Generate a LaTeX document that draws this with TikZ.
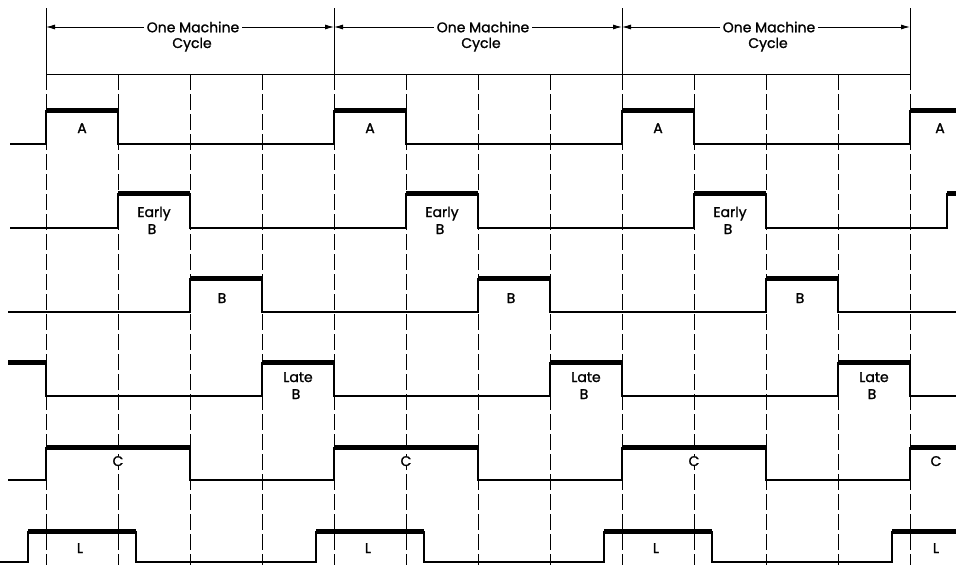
\documentclass[tikz,border=0pt]{standalone}
\usepackage{fontspec}
\setmainfont{Poppins}
\newfontfamily\lblfont{Poppins}[FakeBold=1.2]
\usetikzlibrary{arrows.meta}
\begin{document}
\begin{tikzpicture}[x=1pt,y=-1pt,
  gridsolid/.style={line width=1pt},
  griddash/.style={line width=1pt,dash pattern=on 16pt off 4pt},
  sig/.style={line width=1.8pt,line join=miter},
  hibar/.style={line width=5pt},
  lbl/.style={font=\lblfont\fontsize{14}{16}\selectfont\addfontfeature{FakeBold=1.2},anchor=base,inner sep=0pt},
  cyc/.style={font=\lblfont\fontsize{14}{16}\selectfont\addfontfeature{FakeBold=1.2},inner sep=3pt},
  arr/.style={line width=0.9pt,-{Latex[length=9pt,width=5pt]}}]
\useasboundingbox (0,0) rectangle (956,565);
\fill[white] (0,0) rectangle (956,565);
% grid
\foreach \x in {46,334,622,910} {
  \draw[gridsolid] (\x,8) -- (\x,74);
  \draw[griddash] (\x,74) -- (\x,565);
}
\foreach \x in {118,190,262,406,478,550,694,766,838}
  \draw[griddash] (\x,74) -- (\x,565);
\draw[gridsolid] (46,74) -- (910,74);
% cycle labels
\coordinate (b0) at (46,27);
\coordinate (b1) at (334,27);
\coordinate (b2) at (622,27);
\coordinate (b3) at (910,27);
\node[cyc] (om1) at (193,27) {One Machine};
\node[cyc] (om2) at (483,27) {One Machine};
\node[cyc] (om3) at (769,27) {One Machine};
\node[lbl] (cy1) at (192,48) {Cycle};
\node[lbl] (cy2) at (481,48) {Cycle};
\node[lbl] (cy3) at (768,48) {Cycle};
\draw[arr] (om1.west) -- (b0);
\draw[arr] (om1.east) -- (b1);
\draw[arr] (om2.west) -- (b1);
\draw[arr] (om2.east) -- (b2);
\draw[arr] (om3.west) -- (b2);
\draw[arr] (om3.east) -- (b3);
% A
\draw[sig] (10,144) -- (46,144) -- (46,111) -- (118,111) -- (118,144) -- (334,144) -- (334,111) -- (406,111) -- (406,144) -- (622,144) -- (622,111) -- (694,111) -- (694,144) -- (910,144) -- (910,111) -- (956,111);
\foreach \a/\b in {46/118,334/406,622/694,910/956} \draw[hibar] (\a,110) -- (\b,110);
\node[lbl] (la1) at (82,133) {A};
\node[lbl] (la2) at (370,133) {A};
\node[lbl] (la3) at (658,133) {A};
\node[lbl] (la4) at (940,133) {A};
% Early B
\draw[sig] (10,228) -- (118,228) -- (118,194) -- (190,194) -- (190,228) -- (406,228) -- (406,194) -- (478,194) -- (478,228) -- (694,228) -- (694,194) -- (766,194) -- (766,228) -- (947,228) -- (947,194) -- (956,194);
\foreach \a/\b in {118/190,406/478,694/766,947/956} \draw[hibar] (\a,193) -- (\b,193);
\node[lbl] (le1) at (154,217) {Early};
\node[lbl] (lf1) at (152,234) {B};
\node[lbl] (le2) at (442,217) {Early};
\node[lbl] (lf2) at (440,234) {B};
\node[lbl] (le3) at (730,217) {Early};
\node[lbl] (lf3) at (728,234) {B};
% B
\draw[sig] (8,312) -- (190,312) -- (190,279) -- (262,279) -- (262,312) -- (478,312) -- (478,279) -- (550,279) -- (550,312) -- (766,312) -- (766,279) -- (838,279) -- (838,312) -- (956,312);
\foreach \a/\b in {190/262,478/550,766/838} \draw[hibar] (\a,278) -- (\b,278);
\node[lbl] (lb1) at (222,303) {B};
\node[lbl] (lb2) at (511,303) {B};
\node[lbl] (lb3) at (800,303) {B};
% Late B
\draw[sig] (8,363) -- (46,363) -- (46,396) -- (262,396) -- (262,363) -- (334,363) -- (334,396) -- (550,396) -- (550,363) -- (622,363) -- (622,396) -- (838,396) -- (838,363) -- (910,363) -- (910,396) -- (956,396);
\foreach \a/\b in {8/46,262/334,550/622,838/910} \draw[hibar] (\a,362) -- (\b,362);
\node[lbl] (ll1) at (298,382) {Late};
\node[lbl] (lm1) at (296,399) {B};
\node[lbl] (ll2) at (586,382) {Late};
\node[lbl] (lm2) at (584,399) {B};
\node[lbl] (ll3) at (874,382) {Late};
\node[lbl] (lm3) at (872,399) {B};
% C
\draw[sig] (8,480) -- (46,480) -- (46,448) -- (190,448) -- (190,480) -- (334,480) -- (334,448) -- (478,448) -- (478,480) -- (622,480) -- (622,448) -- (766,448) -- (766,480) -- (910,480) -- (910,448) -- (956,448);
\foreach \a/\b in {46/190,334/478,622/766,910/956} \draw[hibar] (\a,447) -- (\b,447);
\node[lbl,fill=white,inner xsep=1pt] (lc1) at (118,466) {C};
\node[lbl,fill=white,inner xsep=1pt] (lc2) at (406,466) {C};
\node[lbl,fill=white,inner xsep=1pt] (lc3) at (694,466) {C};
\node[lbl] (lc4) at (936,466) {C};
% L
\draw[sig] (0,562) -- (28,562) -- (28,532) -- (136,532) -- (136,562) -- (316,562) -- (316,532) -- (424,532) -- (424,562) -- (604,562) -- (604,532) -- (712,532) -- (712,562) -- (892,562) -- (892,532) -- (956,532);
\foreach \a/\b in {28/136,316/424,604/712,892/956} \draw[hibar] (\a,531) -- (\b,531);
\node[lbl] (lL1) at (80,553) {L};
\node[lbl] (lL2) at (368,553) {L};
\node[lbl] (lL3) at (656,553) {L};
\node[lbl] (lL4) at (936,553) {L};
\end{tikzpicture}
\end{document}
